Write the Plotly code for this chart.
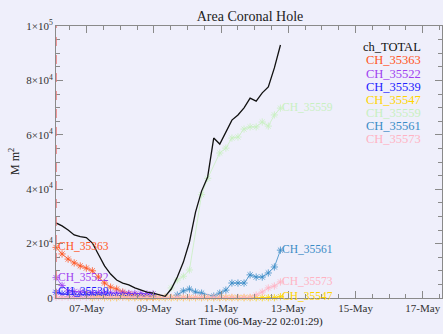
import plotly.graph_objects as go

# ---------------- data ----------------
times = [
    "2022-05-06 02:03", "2022-05-06 06:21", "2022-05-06 10:41", "2022-05-06 15:01",
    "2022-05-06 19:21", "2022-05-06 23:41", "2022-05-07 04:01", "2022-05-07 08:21",
    "2022-05-07 12:41", "2022-05-07 17:01", "2022-05-07 21:21", "2022-05-08 01:41",
    "2022-05-08 06:01", "2022-05-08 10:21", "2022-05-08 14:41", "2022-05-08 19:01",
    "2022-05-08 23:21", "2022-05-09 03:41", "2022-05-09 08:01", "2022-05-09 12:21",
    "2022-05-09 16:41", "2022-05-09 21:01", "2022-05-10 01:21", "2022-05-10 05:41",
    "2022-05-10 10:01", "2022-05-10 14:21", "2022-05-10 18:41", "2022-05-10 23:01",
    "2022-05-11 03:21", "2022-05-11 07:41", "2022-05-11 12:01", "2022-05-11 16:21",
    "2022-05-11 20:41", "2022-05-12 01:01", "2022-05-12 05:21", "2022-05-12 09:41",
    "2022-05-12 14:01", "2022-05-12 18:21",
]

ch_total = [27600, 26500, 25000, 23200, 22600, 22200, 20200, 15800, 11800, 8800,
            6600, 5500, 4800, 3700, 2900, 2200, 1800, 1300, 600, 3300,
            7700, 13200, 20600, 31600, 39300, 44500, 58800, 56600, 61000, 65400,
            67300, 69900, 73500, 72400, 75400, 77600, 84600, 93000]

ch_35363 = [18600, 16200, 14300, 12900, 11800, 11000, 10000, 7700, 5500, 4000,
            3300, 2200, 1500, 1100, 700, 400, 300] + [None] * 21

ch_35522 = [7500, 4600, 2600, 2400, 2200, 2100, 2000, 2000, 1900, 1900,
            1800, 1800, 1700, 1700, 1600, 1500, 1500] + [None] * 21

ch_35539 = [2100, 1500, 1300, 1200, 1100, 1100, 1100, 1000, 1000, 1000,
            900, 900, 900, 800, 800, 700, 700] + [None] * 21

ch_35547 = [None] * 6 + [100, 400, 100, 100, 100, 400, 100, 100, 100, 100,
            100, 100, 100, 100, 100, 100, 100, 100, 100, 100,
            100, 100, 100, 100, 100, 100, 100, 100, 100, 100, 100, 500]

ch_35559 = [None] * 18 + [400, 3700, 6600, 8000, 10300, None, 38000, 44000, None,
                          53300, 55100, 58800, 59200, 62100, 62900, 62900, 64700,
                          63200, 67300, 69800]

ch_35561 = [None] * 20 + [1100, 2600, 3300, 2200, 1800, None, 700, 1800, 2900,
                          5500, 5500, 5500, 8500, 7700, 7700, 9200, 11400, 17600]

ch_35573 = [300] * 33 + [1100, 2200, 3700, 4400, 5900]

series_names = ["CH_35363", "CH_35522", "CH_35539", "CH_35547",
                "CH_35559", "CH_35561", "CH_35573"]
series_values = [ch_35363, ch_35522, ch_35539, ch_35547,
                 ch_35559, ch_35561, ch_35573]
series_colors = ["#ff5522", "#a040f0", "#2222ff", "#ffd400",
                 "#c8f0c0", "#3a8cc6", "#ffb3c3"]

yticks = [0, 20000, 40000, 60000, 80000, 100000]
yticktext = ["0", "2×10<sup>4</sup>", "4×10<sup>4</sup>", "6×10<sup>4</sup>",
             "8×10<sup>4</sup>", "1×10<sup>5</sup>"]

x_start = "2022-05-06 02:01:29"
x_end = "2022-05-17 13:45"

# ---------------- figure ----------------
BG = "#efeffb"
FONT = "Liberation Serif"
AX = "#8a8a8a"

fig = go.Figure()

for name, vals, col in zip(series_names, series_values, series_colors):
    fig.add_trace(go.Scatter(
        x=times, y=vals, mode="lines+markers", name=name,
        connectgaps=True, cliponaxis=False,
        line=dict(color=col, width=0.8),
        marker=dict(symbol="asterisk-open", size=6, color=col,
                    line=dict(width=0.8, color=col)),
        showlegend=False,
    ))

fig.add_trace(go.Scatter(
    x=times, y=ch_total, mode="lines", name="ch_TOTAL",
    line=dict(color="#111111", width=1.3), showlegend=False,
))

annotations = []
# labels at each series' maximum
for name, vals, col in zip(series_names, series_values, series_colors):
    best = None
    for t, v in zip(times, vals):
        if v is not None and (best is None or v > best[1]):
            best = (t, v)
    annotations.append(dict(
        x=best[0], y=best[1], xref="x", yref="y", text=name,
        showarrow=False, xanchor="left", yanchor="middle", yshift=1,
        font=dict(family=FONT, size=11.5, color=col),
    ))

# legend as text, right aligned
legend_names = ["ch_TOTAL"] + series_names
legend_colors = ["#111111"] + series_colors
for k, (name, col) in enumerate(zip(legend_names, legend_colors)):
    ypx = 47.3 + 13.1 * k
    annotations.append(dict(
        x=(423 - 56) / 386, y=(298 - ypx) / 272, xref="paper", yref="paper",
        text=name, showarrow=False, xanchor="right", yanchor="middle",
        font=dict(family=FONT, size=12.5, color=col),
    ))

# y-axis title
annotations.append(dict(
    x=(14 - 56) / 386, y=0.5, xref="paper", yref="paper",
    text="M m<sup>2</sup>", showarrow=False, textangle=-90,
    xanchor="center", yanchor="middle",
    font=dict(family=FONT, size=12, color="#222222"),
))

fig.add_shape(type="line", xref="x", yref="paper", x0=x_start, x1=x_start,
              y0=0, y1=1, line=dict(color="#f07878", width=1.5, dash="dash"))

fig.update_layout(
    width=443, height=334,
    margin=dict(l=56, r=1, t=26, b=36),
    paper_bgcolor=BG, plot_bgcolor=BG,
    font=dict(family=FONT, size=11, color="#333333"),
    title=dict(text="Area Coronal Hole", x=(250) / 443, xanchor="center",
               y=1 - 16 / 334, yanchor="middle",
               font=dict(family=FONT, size=14, color="#222222")),
    annotations=annotations,
    showlegend=False,
)

fig.update_xaxes(
    type="date", range=[x_start, x_end],
    tick0="2022-05-07", dtick=2 * 86400000, tickformat="%d-%b",
    ticks="inside", ticklen=7, tickcolor=AX, tickwidth=1,
    showline=True, linecolor=AX, linewidth=1, mirror="ticks",
    showgrid=False, zeroline=False,
    minor=dict(dtick=43200000, tick0="2022-05-07", ticks="inside",
               ticklen=4, tickcolor=AX, showgrid=False),
    title=dict(text="Start Time (06-May-22 02:01:29)", standoff=4,
               font=dict(family=FONT, size=11, color="#222222")),
    tickfont=dict(family=FONT, size=11, color="#333333"),
)

fig.update_yaxes(
    range=[0, 100000], tickvals=yticks, ticktext=yticktext,
    ticks="inside", ticklen=7, tickcolor=AX, tickwidth=1,
    showline=True, linecolor=AX, linewidth=1, mirror="ticks",
    showgrid=False, zeroline=False,
    minor=dict(dtick=5000, tick0=0, ticks="inside", ticklen=4,
               tickcolor=AX, showgrid=False),
    tickfont=dict(family=FONT, size=11, color="#333333"),
)

fig.write_html("out.html")
